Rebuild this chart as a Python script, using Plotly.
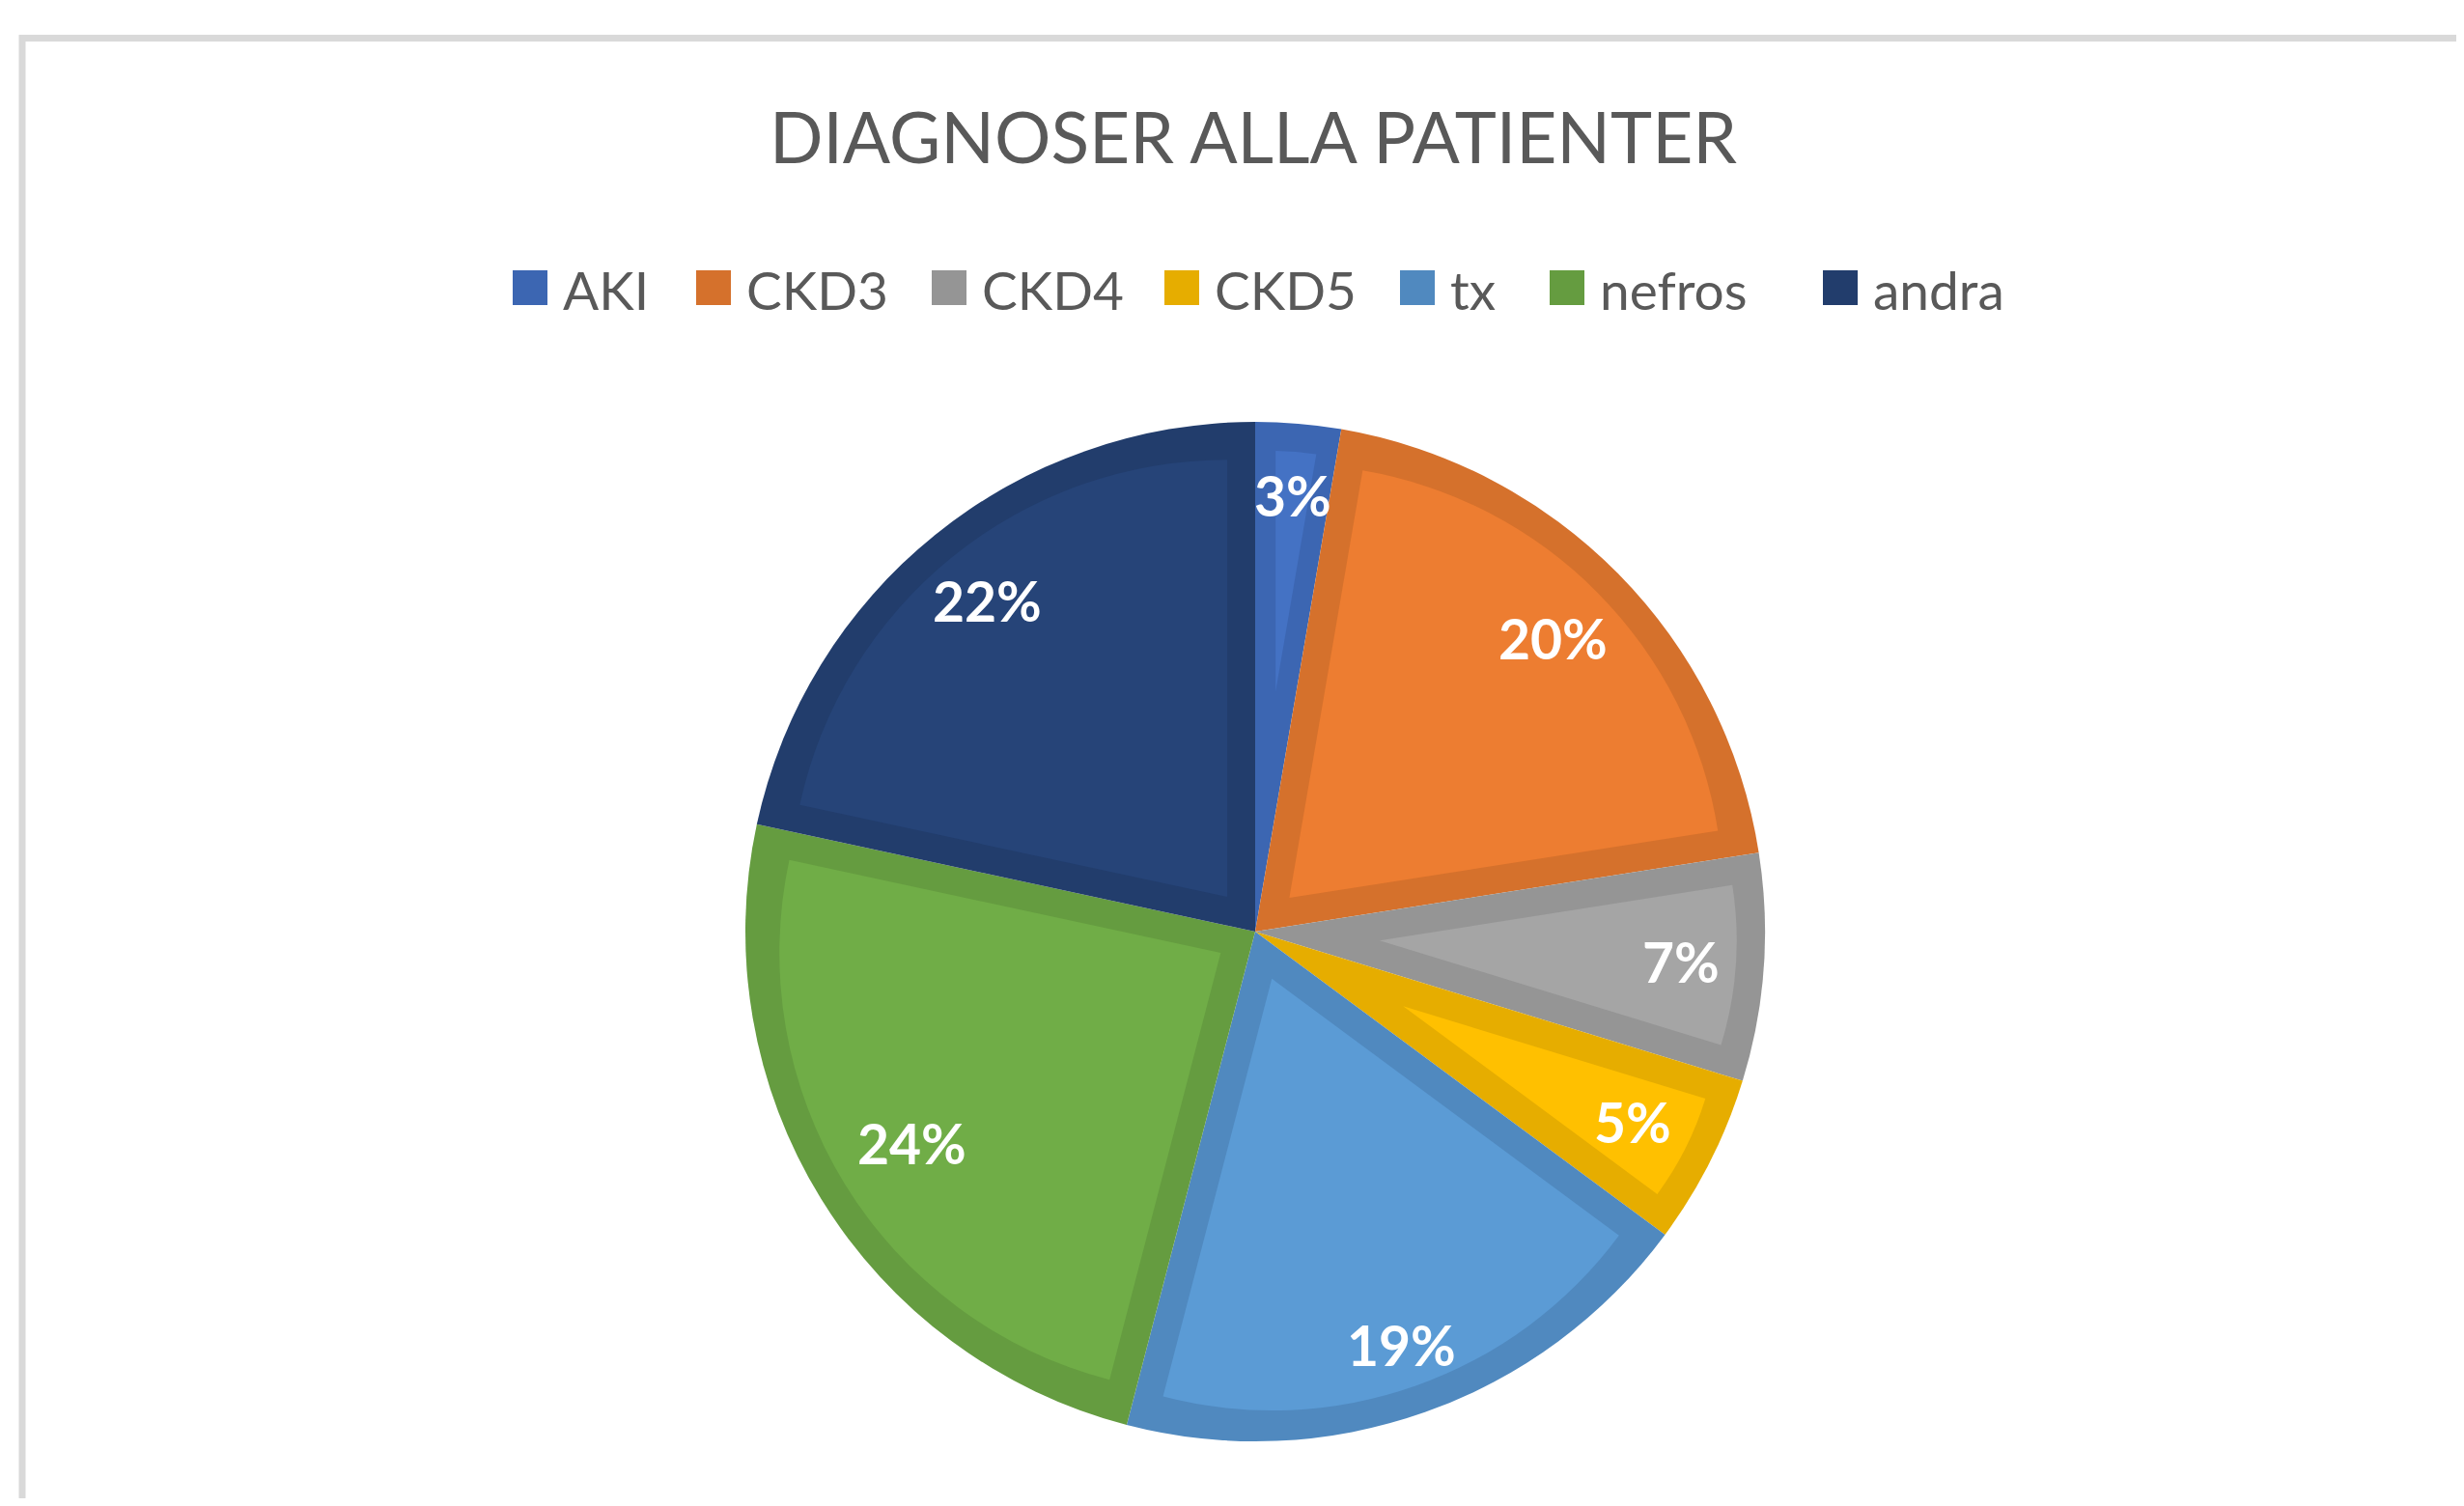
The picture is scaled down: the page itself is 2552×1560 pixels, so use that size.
import math
import plotly.graph_objects as go

# ---- data ----
categories = ["AKI", "CKD3", "CKD4", "CKD5", "tx", "nefros", "andra"]
counts = [3, 22, 8, 6, 21, 27, 24]
fill_colors = ["#4472C4", "#ED7D31", "#A5A5A5", "#FFC000", "#5B9BD5", "#70AD47", "#264478"]
edge_colors = ["#3C66B2", "#D5712C", "#959595", "#E6AD00", "#5089BF", "#659C40", "#223D6C"]
title_text = "DIAGNOSER ALLA PATIENTER"

# ---- layout geometry (page pixels; the page body has an 8px margin) ----
OFF = 8
W, H = 2552 - 2 * OFF, 1560 - 2 * OFF


def px_x(X):
    return (X - OFF) / W


def px_y(Y):
    return 1 - (Y - OFF) / H


cx, cy = 1300, 965      # pie centre
R = 528                 # pie radius
B = 29                  # width of the darker inner border band
label_radius = [0.86, 0.82, 0.838, 0.83, 0.86, 0.79, 0.836]   # "best fit" label placement

TRANSPARENT = "rgba(0,0,0,0)"
fig = go.Figure()

# base pie: darker colours (forms the border bands)
fig.add_trace(go.Pie(
    labels=categories, values=counts, sort=False, direction="clockwise", rotation=0,
    marker=dict(colors=edge_colors, line=dict(width=0)),
    textinfo="none", hoverinfo="label+percent",
    domain=dict(x=[px_x(cx - R), px_x(cx + R)], y=[px_y(cy + R), px_y(cy - R)]),
    showlegend=False,
))

# inset lighter wedges, one trace per slice (pulled so that the wedge sits B px inside)
total = sum(counts)
Ri = R - B
for k, v in enumerate(counts):
    alpha = 2 * math.pi * v / total
    d = min(B / math.sin(alpha / 2), Ri / 2)
    r_in = Ri - d
    pull = [0.0] * len(counts)
    pull[k] = min(d / r_in, 1.0)
    cols = [TRANSPARENT] * len(counts)
    cols[k] = fill_colors[k]
    fig.add_trace(go.Pie(
        labels=categories, values=counts, sort=False, direction="clockwise", rotation=0,
        marker=dict(colors=cols, line=dict(width=0)), pull=pull,
        textinfo="none", hoverinfo="skip",
        domain=dict(x=[px_x(cx - Ri), px_x(cx + Ri)], y=[px_y(cy + Ri), px_y(cy - Ri)]),
        showlegend=False,
    ))

annotations = []
shapes = []

# percentage labels at the mid-angle of each slice
cum = 0
for v, lr in zip(counts, label_radius):
    mid = (cum + v / 2) / total
    cum += v
    ang = 2 * math.pi * mid
    rho = lr * R
    annotations.append(dict(
        x=px_x(cx + rho * math.sin(ang)), y=px_y(cy - rho * math.cos(ang)),
        xref="paper", yref="paper", showarrow=False,
        text=f"{round(100 * v / total)}%",
        font=dict(family="Lato", size=57, color="white", weight="bold"),
        xanchor="center", yanchor="middle",
    ))

# legend (keys + labels)
legend_key_left = [531, 721, 965, 1206, 1450, 1605, 1888]
legend_y = 298
key = 36
for name, col, x0 in zip(categories, edge_colors, legend_key_left):
    shapes.append(dict(
        type="rect", xref="paper", yref="paper",
        x0=px_x(x0), x1=px_x(x0 + key), y0=px_y(legend_y + key / 2), y1=px_y(legend_y - key / 2),
        fillcolor=col, line=dict(width=0),
    ))
    annotations.append(dict(
        x=px_x(x0 + 50), y=px_y(legend_y + 2), xref="paper", yref="paper", showarrow=False,
        text=name, xanchor="left", yanchor="middle",
        font=dict(family="Lato", size=55, color="#595959"),
    ))

# chart frame
shapes.append(dict(
    type="rect", xref="paper", yref="paper",
    x0=px_x(23), x1=1.5, y0=px_y(39.5), y1=-0.5,
    line=dict(color="#D9D9D9", width=7), layer="below",
))

fig.update_layout(
    width=W, height=H,
    margin=dict(l=0, r=0, t=0, b=0),
    paper_bgcolor="white", plot_bgcolor="white",
    title=dict(
        text=title_text, x=px_x(1298), y=px_y(143), xanchor="center", yanchor="middle",
        font=dict(family="Lato", size=73, color="#595959"),
    ),
    showlegend=False,
    annotations=annotations,
    shapes=shapes,
)

fig.write_html("out.html")
